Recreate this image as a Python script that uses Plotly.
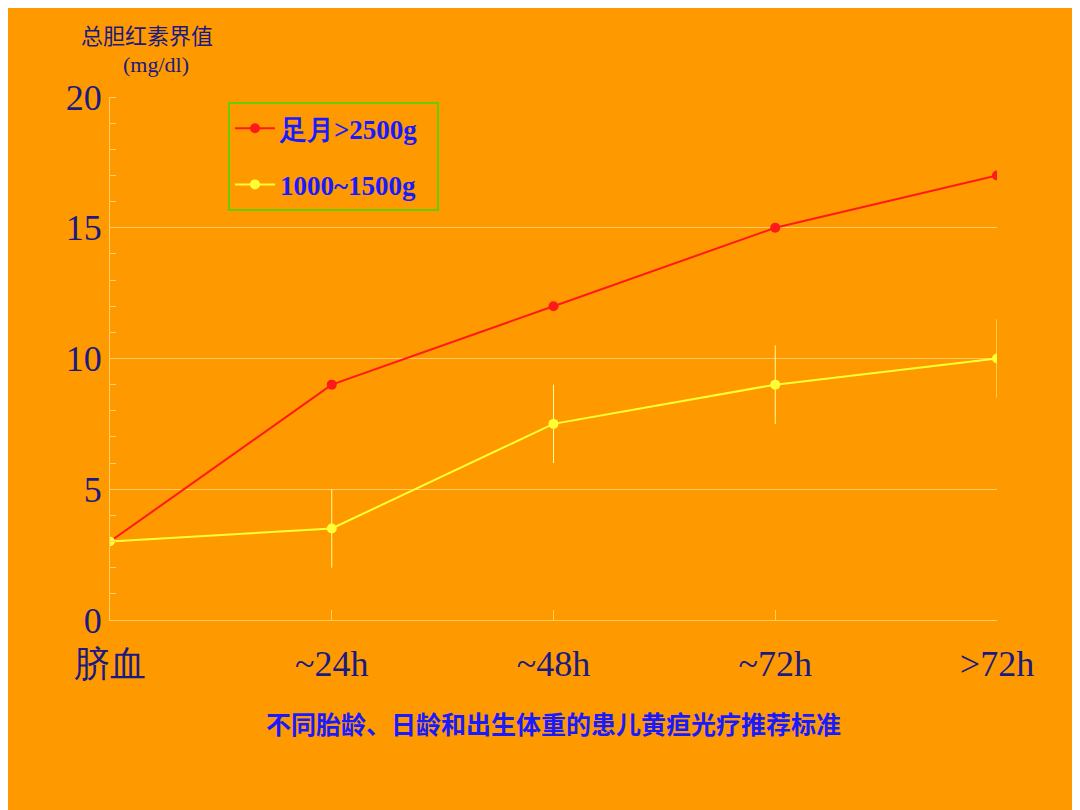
import plotly.graph_objects as go

x_labels = ["脐血", "~24h", "~48h", "~72h", ">72h"]
term_vals = [3, 9, 12, 15, 17]
low_vals = [3, 3.5, 7.5, 9, 10]
low_err = [0, 1.5, 1.5, 1.5, 1.5]
y_ticks = [0, 5, 10, 15, 20]

xs = list(range(len(x_labels)))
fig = go.Figure()
fig.add_trace(go.Scatter(x=xs, y=term_vals, mode="lines+markers", name="<b>足月>2500g</b>  ",
                         legendgroup="a",
                         line=dict(color="#ff1a1a", width=2), marker=dict(size=10, color="#ff1a1a")))
fig.add_trace(go.Scatter(x=xs, y=low_vals, mode="lines+markers", name="<b>1000~1500g</b>  ",
                         legendgroup="b",
                         line=dict(color="#ffff33", width=2), marker=dict(size=10, color="#ffff33"),
                         error_y=dict(type="data", array=low_err, color="#ffff99", thickness=1, width=0)))

serif = "Liberation Serif, Times New Roman, serif"
fig.update_layout(
    width=1080, height=810, paper_bgcolor="#ff9900", plot_bgcolor="#ff9900",
    margin=dict(l=102, r=91, t=89, b=198),
    font=dict(family=serif, color="#1a1a80"),
    legend=dict(x=0.133, y=0.99, xanchor="left", yanchor="top", bgcolor="#ff9900",
                bordercolor="#66cc00", borderwidth=2, itemwidth=40,
                font=dict(size=27, color="#1a1aff", family=serif), tracegroupgap=18),
    xaxis=dict(range=[0, 4], tickvals=xs, ticktext=x_labels, showgrid=False,
               showline=True, linecolor="#ffcc66", ticks="inside", ticklen=10, tickcolor="#ffcc66",
               tickfont=dict(size=36, color="#1a1a80", family=serif), zeroline=False, ticklabelstandoff=12),
    yaxis=dict(range=[0, 20], tickvals=y_ticks, showgrid=True, gridcolor="#ffcc66",
               showline=True, linecolor="#ffcc66", ticks="outside", ticklen=0,
               tickfont=dict(size=36, color="#1a1a80", family=serif), zeroline=False,
               minor=dict(dtick=1, ticks="inside", ticklen=6, tickcolor="#ffcc66", showgrid=False)),
    annotations=[
        dict(text="总胆红素界值", xref="paper", yref="paper", x=-0.035, y=1.155, showarrow=False,
             xanchor="left", font=dict(size=22, color="#1a1a80", family="Noto Sans CJK SC")),
        dict(text="(mg/dl)", xref="paper", yref="paper", x=0.012, y=1.09, showarrow=False,
             xanchor="left", font=dict(size=22, color="#1a1a80", family=serif)),
        dict(text="<b>不同胎龄、日龄和出生体重的患儿黄疸光疗推荐标准</b>", xref="paper", yref="paper",
             x=0.5, y=-0.235, showarrow=False, font=dict(size=25, color="#1a1aff", family="Noto Sans CJK SC")),
    ],
)
fig.write_html("out.html")
